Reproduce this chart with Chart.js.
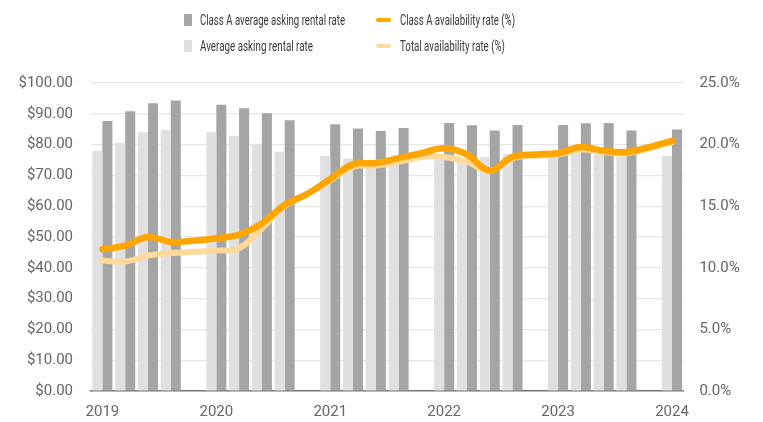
<!DOCTYPE html>
<html>
<head>
<meta charset="utf-8">
<script src="https://cdn.jsdelivr.net/npm/chart.js@4/dist/chart.umd.min.js"></script>
<style>
  html, body { margin: 0; padding: 0; background: #fff; }
  #wrap { position: relative; width: 763px; height: 422px; }
  canvas { position: absolute; left: 0; top: 0; }
  .lg { position: absolute; font-family: Roboto, sans-serif; font-size: 15px; color: #3a3a3a; white-space: nowrap; transform-origin: 0 50%; }
  .sw { position: absolute; }
</style>
</head>
<body>
<div id="wrap">
  <canvas id="c" width="763" height="422"></canvas>
  <div id="legend"></div>
</div>
<script>
const labels = ['2019 Q1','2019 Q2','2019 Q3','2019 Q4','',
                '2020 Q1','2020 Q2','2020 Q3','2020 Q4','',
                '2021 Q1','2021 Q2','2021 Q3','2021 Q4','',
                '2022 Q1','2022 Q2','2022 Q3','2022 Q4','',
                '2023 Q1','2023 Q2','2023 Q3','2023 Q4','',
                '2024 Q1'];
const classARent = [87.7,90.8,93.4,94.3,null, 92.9,91.8,90.2,87.9,null, 86.6,85.2,84.4,85.4,null, 87.0,86.3,84.6,86.4,null, 86.4,86.9,87.0,84.6,null, 84.9];
const avgRent    = [78.0,80.6,84.0,84.7,null, 84.0,82.9,80.3,77.7,null, 76.3,75.5,75.0,74.5,null, 75.8,75.0,76.0,76.9,null, 76.3,77.3,76.9,76.1,null, 76.3];
const classAAvail = [11.5,11.8,12.5,12.1,12.2, 12.4,12.7,13.6,15.1,16.0, 17.2,18.4,18.5,18.9,19.3, 19.7,19.2,17.9,19.0,19.2, 19.3,19.8,19.5,19.4,19.8, 20.3];
const totalAvail  = [10.6,10.5,11.0,11.2,11.3, 11.4,11.6,13.2,15.0,16.0, 17.1,18.2,18.3,18.6,19.0, 19.0,18.6,17.9,18.9,19.1, 19.2,19.6,19.4,19.3,19.7, 20.2];
const seriesNames = ['Class A average asking rental rate','Average asking rental rate','Class A availability rate (%)','Total availability rate (%)'];

const DARK = '#a5a5a5', LIGHT = '#e0e0e0', ORANGE = '#ffa500', PALE = '#ffd99a';
const tickFont = { family: 'Roboto, sans-serif', size: 15 };

new Chart(document.getElementById('c'), {
  data: {
    labels,
    datasets: [
      { type: 'line', label: seriesNames[2], data: classAAvail, yAxisID: 'y2', borderColor: ORANGE, borderWidth: 6.5, pointRadius: 0, tension: 0.4, order: 0, borderCapStyle: 'round' },
      { type: 'line', label: seriesNames[3], data: totalAvail, yAxisID: 'y2', borderColor: PALE, borderWidth: 6, pointRadius: 0, tension: 0.4, order: 1, borderCapStyle: 'round' },
      { type: 'bar', label: seriesNames[1], data: avgRent, yAxisID: 'y', backgroundColor: LIGHT, order: 2, categoryPercentage: 0.88, barPercentage: 1.0 },
      { type: 'bar', label: seriesNames[0], data: classARent, yAxisID: 'y', backgroundColor: DARK, order: 3, categoryPercentage: 0.88, barPercentage: 1.0 }
    ]
  },
  options: {
    responsive: false,
    animation: false,
    layout: { padding: { top: 83, left: 0, right: 0, bottom: 0 } },
    plugins: { legend: { display: false }, tooltip: { enabled: false } },
    scales: {
      x: {
        offset: true,
        grid: { display: false, drawTicks: false },
        border: { color: '#767676', width: 1.5 },
        ticks: {
          autoSkip: false, maxRotation: 0, padding: 12, color: '#666', font: tickFont,
          callback: function(v) { const l = this.getLabelForValue(v); return l.endsWith('Q1') ? l.slice(0, 4) : ''; }
        },
        afterFit: s => { s.height = 31; }
      },
      y: {
        position: 'left', min: 0, max: 100,
        grid: { color: '#e6e6e6', lineWidth: 1.2, drawTicks: false },
        border: { display: false },
        ticks: { stepSize: 10, padding: 18, color: '#666', font: tickFont, callback: v => '$' + v.toFixed(2) },
        afterFit: s => { s.width = 91; }
      },
      y2: {
        position: 'right', min: 0, max: 25,
        grid: { display: false, drawTicks: false },
        border: { display: false },
        ticks: { stepSize: 5, padding: 16, color: '#666', font: tickFont, callback: v => v.toFixed(1) + '%' },
        afterFit: s => { s.width = 79.6; }
      }
    }
  }
});

// legend (HTML)
const lg = document.getElementById('legend');
const items = [
  { name: seriesNames[0], kind: 'box', color: DARK,  x: 184, y: 20 },
  { name: seriesNames[1], kind: 'box', color: LIGHT, x: 184, y: 46 },
  { name: seriesNames[2], kind: 'line', color: ORANGE, x: 376, y: 20 },
  { name: seriesNames[3], kind: 'line', color: PALE,  x: 376, y: 46 }
];
const textW = { [seriesNames[0]]: 145, [seriesNames[1]]: 113, [seriesNames[2]]: 115, [seriesNames[3]]: 105 };
items.forEach(it => {
  const sw = document.createElement('div');
  sw.className = 'sw';
  if (it.kind === 'box') {
    Object.assign(sw.style, { left: it.x + 'px', top: (it.y - 6) + 'px', width: '8px', height: '12px', background: it.color });
  } else {
    Object.assign(sw.style, { left: it.x + 'px', top: (it.y - 2) + 'px', width: '15px', height: '4px', background: it.color, borderRadius: '2px' });
  }
  lg.appendChild(sw);
  const t = document.createElement('div');
  t.className = 'lg';
  t.textContent = it.name;
  const tx = it.kind === 'box' ? 200 : 400;
  Object.assign(t.style, { left: tx + 'px', top: (it.y - 10) + 'px', lineHeight: '20px' });
  lg.appendChild(t);
  const w = t.getBoundingClientRect().width;
  t.style.transform = 'scaleX(' + (textW[it.name] / w) + ')';
});
</script>
</body>
</html>
